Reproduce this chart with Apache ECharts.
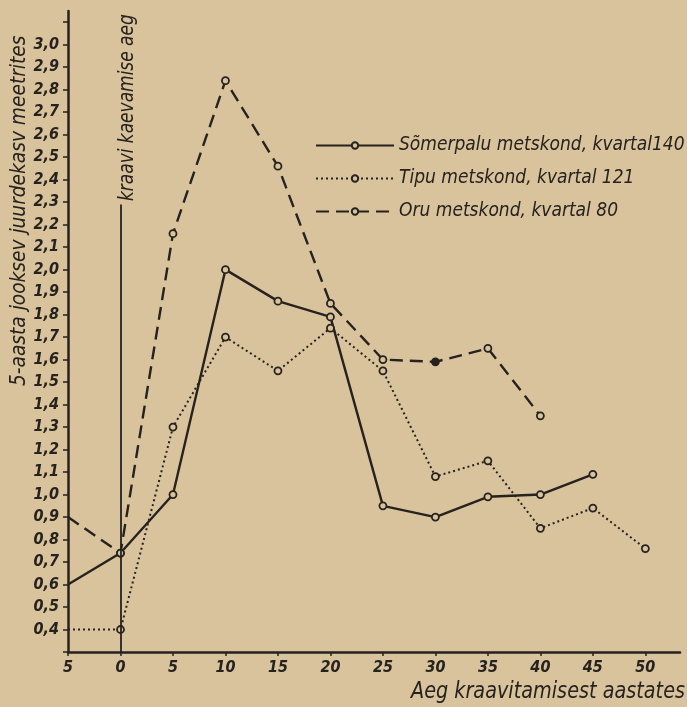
<!DOCTYPE html>
<html>
<head>
<meta charset="utf-8">
<script src="https://cdn.jsdelivr.net/npm/echarts@6/dist/echarts.min.js"></script>
<style>
html,body{margin:0;padding:0;background:#d9c39c;}
#c{width:687px;height:707px;}
</style>
</head>
<body>
<div id="c"></div>
<script>
// ---- data ----
var years = [-5, 0, 5, 10, 15, 20, 25, 30, 35, 40, 45, 50];
var somerpalu = [0.6, 0.74, 1.0, 2.0, 1.86, 1.79, 0.95, 0.9, 0.99, 1.0, 1.09, null];
var tipu = [0.4, 0.4, 1.3, 1.7, 1.55, 1.74, 1.55, 1.08, 1.15, 0.85, 0.94, 0.76];
var oru = [0.9, 0.74, 2.16, 2.84, 2.46, 1.85, 1.6, 1.59, 1.65, 1.35, null, null];
var seriesNames = ['Sõmerpalu metskond, kvartal140', 'Tipu metskond, kvartal 121', 'Oru metskond, kvartal 80'];
var yTickMin = 0.4, yTickMax = 3.0;
var xTickMax = 50;
var ditchYear = 0, ditchTop = 2.29;
var yTitle = '5-aasta jooksev juurdekasv meetrites';
var xTitle = 'Aeg kraavitamisest aastates';
var ditchLabel = 'kraavi kaevamise aeg';

var INK = '#26221e';
var BG = '#d9c39c';
var FONT = '"Liberation Sans Narrow","DejaVu Sans Condensed","Liberation Sans",sans-serif';

function pts(arr, filledIdx) {
  var out = [];
  for (var i = 0; i < years.length; i++) {
    if (arr[i] === null) continue;
    var item = { value: [years[i], arr[i]] };
    if (years[i] === -5) item.symbol = 'none';
    if (filledIdx !== undefined && i === filledIdx) item.itemStyle = { color: INK };
    out.push(item);
  }
  return out;
}

var chart = echarts.init(document.getElementById('c'), null, { renderer: 'canvas' });
var common = {
  type: 'line',
  symbol: 'circle',
  symbolSize: 7,
  itemStyle: { color: BG, borderColor: INK, borderWidth: 1.8 },
  animation: false,
  z: 3
};
chart.setOption({
  backgroundColor: BG,
  animation: false,
  grid: { left: 68, right: 7, top: 11, bottom: 55, containLabel: false },
  legend: {
    orient: 'vertical',
    left: 310,
    top: 131,
    itemWidth: 78,
    itemHeight: 8,
    itemGap: 14,
    data: seriesNames,
    textStyle: { fontFamily: FONT, fontStyle: 'italic', fontSize: 19, color: INK }
  },
  xAxis: {
    type: 'value',
    min: -5,
    max: 53.3,
    interval: 5,
    splitLine: { show: false },
    axisLine: { onZero: false, lineStyle: { color: INK, width: 2.5 } },
    axisTick: { show: true, length: 4, lineStyle: { color: INK, width: 1.5 } },
    axisLabel: {
      margin: 8,
      showMaxLabel: false,
      fontFamily: FONT, fontStyle: 'italic', fontWeight: 'bold', fontSize: 16, color: INK,
      formatter: function (v) { return (v > xTickMax) ? '' : String(Math.abs(v)); }
    }
  },
  yAxis: {
    type: 'value',
    min: 0.3,
    max: 3.15,
    interval: 0.1,
    splitLine: { show: false },
    axisLine: { show: true, onZero: false, lineStyle: { color: INK, width: 2.5 } },
    axisTick: { show: true, length: 5, lineStyle: { color: INK, width: 1.5 } },
    axisLabel: {
      margin: 9,
      showMaxLabel: false,
      fontFamily: FONT, fontStyle: 'italic', fontWeight: 'bold', fontSize: 16, color: INK,
      formatter: function (v) {
        var r = Math.round(v * 10) / 10;
        if (r < yTickMin - 1e-6 || r > yTickMax + 1e-6) return '';
        return r.toFixed(1).replace('.', ',');
      }
    }
  },
  series: [
    Object.assign({}, common, {
      name: seriesNames[0],
      data: pts(somerpalu),
      lineStyle: { color: INK, width: 2.4, type: 'solid' },
      markLine: {
        silent: true,
        symbol: 'none',
        label: { show: false },
        lineStyle: { color: INK, width: 1.8, type: 'solid' },
        data: [[{ coord: [ditchYear, 0.3] }, { coord: [ditchYear, ditchTop] }]]
      }
    }),
    Object.assign({}, common, {
      name: seriesNames[1],
      data: pts(tipu),
      lineStyle: { color: INK, width: 2, type: [2, 3] }
    }),
    Object.assign({}, common, {
      name: seriesNames[2],
      data: pts(oru, 7),
      lineStyle: { color: INK, width: 2.4, type: [13, 7] }
    })
  ],
  graphic: [
    {
      type: 'text', x: 19, y: 386, rotation: Math.PI / 2, scaleX: 0.94,
      style: { text: yTitle, fontFamily: FONT, fontStyle: 'italic', fontSize: 22, fill: INK, align: 'left', verticalAlign: 'middle' }
    },
    {
      type: 'text', x: 685, y: 692, scaleX: 0.93,
      style: { text: xTitle, fontFamily: FONT, fontStyle: 'italic', fontSize: 23, fill: INK, align: 'right', verticalAlign: 'middle' }
    },
    {
      type: 'text', x: 128, y: 201, rotation: Math.PI / 2, scaleX: 0.9,
      style: { text: ditchLabel, fontFamily: FONT, fontStyle: 'italic', fontSize: 21, fill: INK, align: 'left', verticalAlign: 'middle' }
    }
  ]
});
</script>
</body>
</html>
